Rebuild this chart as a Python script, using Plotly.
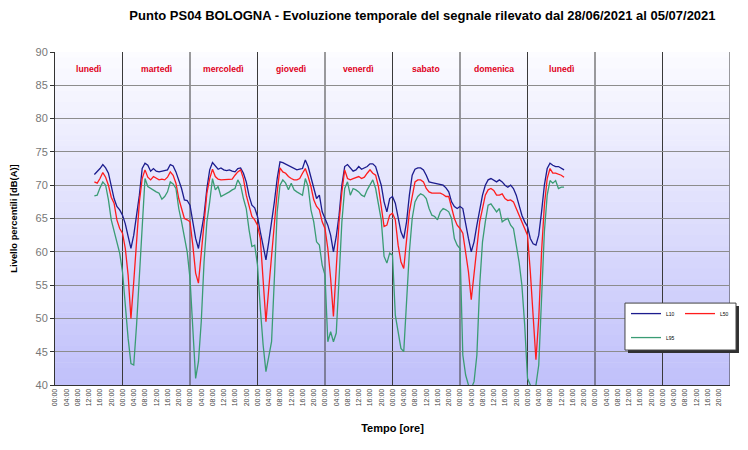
import plotly.graph_objects as go

# ---------------- DATA (hourly values, 28/06/2021 14:00 -> 05/07/2021 13:00) ----------------
START_HOUR = 14  # first sample: lunedì 28/06 at 14:00

# L10 per day
L10_lun1 = [71.6, 72.0, 72.5, 73.1, 72.6, 71.8, 70.0, 68.0, 66.8, 66.3]
L10_mar = [65.5, 64.2, 62.3, 60.5, 62.5, 65.3, 68.5, 72.5, 73.3, 73.0, 72.1, 72.5,
           72.1, 72.0, 72.1, 72.1, 72.3, 73.1, 72.9, 72.0, 70.8, 69.5, 67.8, 67.7]
L10_mer = [67.0, 64.5, 62.0, 60.5, 63.0, 65.5, 69.5, 72.3, 73.4, 72.9, 72.4, 72.6,
           72.3, 72.2, 72.3, 72.1, 72.0, 72.5, 72.6, 71.8, 70.5, 68.4, 67.0, 66.6]
L10_gio = [65.3, 63.0, 60.8, 58.8, 61.5, 64.3, 67.5, 71.0, 73.5, 73.4, 73.2, 73.0,
           72.8, 72.5, 72.3, 72.4, 72.5, 73.8, 72.8, 71.2, 69.5, 68.0, 68.5, 66.0]
L10_ven = [65.0, 64.0, 62.5, 60.0, 62.3, 65.5, 70.0, 72.8, 73.1, 72.6, 72.1, 72.3,
           72.8, 72.4, 72.6, 72.8, 73.2, 73.2, 72.8, 71.5, 70.0, 67.5, 66.0, 68.0]
L10_sab = [68.3, 67.3, 65.0, 63.0, 62.0, 64.5, 68.5, 71.5, 72.4, 72.6, 72.6, 72.3,
           71.5, 70.5, 70.4, 70.3, 70.2, 70.1, 70.0, 69.6, 69.0, 67.5, 66.8, 66.5]
L10_dom = [66.8, 66.5, 64.0, 62.0, 60.0, 61.5, 64.0, 66.5, 68.5, 70.0, 70.8, 71.0,
           70.7, 70.5, 70.8, 70.5, 70.0, 69.7, 70.0, 69.5, 68.5, 67.0, 65.5, 64.5]
L10_lun2 = [63.8, 62.0, 61.2, 61.0, 62.5, 66.0, 70.0, 72.5, 73.3, 73.0, 72.8, 72.8, 72.6, 72.3]

# L50 per day
L50_lun1 = [70.5, 70.3, 71.0, 71.9, 71.2, 70.0, 68.2, 67.3, 64.8, 63.5]
L50_mar = [62.8, 60.5, 56.5, 50.0, 55.5, 62.0, 67.5, 71.0, 72.3, 71.2, 70.8, 71.3,
           71.0, 70.8, 70.9, 70.8, 71.2, 72.0, 71.5, 70.3, 68.0, 66.5, 65.0, 64.8]
L50_mer = [64.5, 61.0, 56.8, 55.3, 59.5, 64.5, 68.8, 71.0, 72.4, 71.3, 70.9, 70.8,
           70.8, 70.8, 70.8, 70.9, 71.5, 72.0, 72.3, 71.0, 68.5, 66.8, 65.3, 64.8]
L50_gio = [64.0, 62.0, 56.0, 49.5, 54.5, 59.5, 63.3, 69.0, 72.6, 72.0, 71.8, 71.3,
           71.0, 70.8, 70.8, 71.0, 71.8, 72.5, 71.3, 69.8, 67.8, 66.8, 66.3, 64.5]
L50_ven = [63.5, 60.5, 56.0, 50.3, 57.5, 64.5, 69.0, 72.3, 71.0, 70.8, 71.0, 71.2,
           71.3, 71.0, 71.2, 71.8, 72.3, 71.8, 71.5, 69.8, 67.0, 63.8, 64.0, 65.5]
L50_sab = [65.8, 64.8, 61.0, 58.5, 57.5, 61.5, 66.0, 68.3, 70.5, 70.8, 70.8, 70.5,
           69.5, 69.0, 68.8, 68.8, 68.8, 68.8, 68.6, 68.3, 68.3, 66.5, 65.0, 64.0]
L50_dom = [63.5, 62.8, 60.0, 57.0, 52.8, 56.5, 61.0, 64.5, 66.5, 68.5, 69.3, 69.5,
           69.2, 68.5, 68.5, 68.7, 68.0, 67.7, 67.8, 67.5, 66.5, 65.5, 64.3, 63.5]
L50_lun2 = [62.5, 57.0, 50.0, 43.8, 50.0, 60.0, 67.0, 71.0, 72.5, 71.8, 71.8, 71.7, 71.5, 71.2]

# L95 per day
L95_lun1 = [68.4, 68.5, 69.6, 70.5, 70.0, 67.8, 64.8, 63.0, 61.3, 59.8]
L95_mar = [57.0, 51.5, 47.0, 43.2, 43.0, 49.0, 56.5, 65.0, 71.0, 69.8, 69.5, 69.3,
           69.0, 68.8, 67.9, 68.3, 69.0, 70.5, 70.2, 69.5, 66.5, 64.5, 62.0, 60.0]
L95_mer = [56.0, 48.0, 41.0, 43.5, 49.5, 58.5, 64.5, 67.5, 71.0, 69.3, 69.8, 68.3,
           68.5, 68.8, 69.0, 69.3, 69.5, 70.8, 70.0, 68.0, 66.5, 63.3, 60.8, 61.0]
L95_gio = [58.0, 51.5, 46.0, 42.0, 44.5, 46.5, 56.0, 66.0, 70.0, 70.8, 70.3, 69.3,
           70.3, 69.3, 69.0, 68.8, 68.5, 71.0, 69.8, 66.3, 64.5, 61.5, 61.0, 58.0]
L95_ven = [56.5, 46.5, 48.0, 46.5, 47.8, 56.0, 64.5, 69.5, 70.5, 68.5, 69.5, 69.3,
           69.0, 68.5, 68.3, 69.3, 70.0, 70.8, 69.5, 67.0, 64.8, 59.3, 58.3, 59.8]
L95_sab = [59.5, 50.5, 48.0, 45.5, 45.0, 52.0, 60.0, 65.0, 67.5, 68.3, 68.7, 68.5,
           68.0, 66.5, 65.5, 65.3, 64.8, 66.0, 66.5, 66.3, 66.0, 65.0, 62.0, 61.0]
L95_dom = [60.5, 44.5, 41.5, 40.0, 39.5, 40.5, 44.5, 55.0, 61.5, 64.5, 67.0, 67.2,
           66.5, 66.0, 66.5, 64.5, 64.8, 65.0, 64.0, 63.5, 61.0, 58.5, 55.0, 49.0]
L95_lun2 = [41.0, 40.0, 39.5, 40.0, 43.0, 53.0, 63.0, 68.5, 70.7, 70.3, 70.7, 69.5, 69.7, 69.7]

DAY_NAMES = ["lunedì", "martedì", "mercoledì", "giovedì", "venerdì", "sabato", "domenica", "lunedì"]
N_DAYS = 10
HOUR_TICK_LABELS = ["00:00", "04:00", "08:00", "12:00", "16:00", "20:00"]
SERIES_NAMES = ["L10", "L50", "L95"]
Y_TICKS = [40, 45, 50, 55, 60, 65, 70, 75, 80, 85, 90]

# ---------------- BUILD ----------------
L10 = L10_lun1 + L10_mar + L10_mer + L10_gio + L10_ven + L10_sab + L10_dom + L10_lun2
L50 = L50_lun1 + L50_mar + L50_mer + L50_gio + L50_ven + L50_sab + L50_dom + L50_lun2
L95 = L95_lun1 + L95_mar + L95_mer + L95_gio + L95_ven + L95_sab + L95_dom + L95_lun2
hours = [START_HOUR + i for i in range(len(L10))]

COLORS = ["#1c1c8e", "#ff1c1c", "#3a9c74"]
FONT = "Liberation Sans, Arial, sans-serif"

fig = go.Figure()
for name, vals, col, lg in zip(SERIES_NAMES, [L10, L50, L95], COLORS, ["legend", "legend", "legend2"]):
    fig.add_trace(go.Scatter(x=hours, y=vals, mode="lines", name=name,
                             line=dict(color=col, width=1.3), legend=lg))

tickvals, ticktext = [], []
for d in range(N_DAYS):
    for k, lab in enumerate(HOUR_TICK_LABELS):
        tickvals.append(d * 24 + k * 4)
        ticktext.append(lab)

shapes = []
# gradient background (white top -> lavender bottom)
NB = 60
top = (252, 252, 255)
bot = (192, 192, 250)
for i in range(NB):
    t = (i + 0.5) / NB
    c = tuple(round(bot[j] + (top[j] - bot[j]) * t) for j in range(3))
    shapes.append(dict(type="rect", xref="x domain", yref="y domain", x0=0, x1=1,
                       y0=i / NB, y1=min(1, (i + 1) / NB + 0.002), layer="below",
                       line=dict(width=0), fillcolor="rgb(%d,%d,%d)" % c))
# day separators
for d in range(1, N_DAYS + 1):
    shapes.append(dict(type="line", xref="x", yref="y domain", x0=d * 24, x1=d * 24,
                       y0=0, y1=1, layer="below", line=dict(color="#3a3a3a", width=1)))
# legend box with shadow
shapes.append(dict(type="rect", xref="paper", yref="paper", x0=0.8489, x1=1.0133,
                   y0=0.096, y1=0.237, fillcolor="#303030", line=dict(width=0), layer="above"))
shapes.append(dict(type="rect", xref="paper", yref="paper", x0=0.8444, x1=1.0089,
                   y0=0.105, y1=0.246, fillcolor="white", line=dict(color="#444", width=1),
                   layer="above"))

annotations = []
for d, nm in enumerate(DAY_NAMES):
    annotations.append(dict(x=d * 24 + 12, y=87.4, xref="x", yref="y", text="<b>%s</b>" % nm,
                            showarrow=False, font=dict(color="#e0001b", size=8.6, family=FONT)))

leg_common = dict(xanchor="left", yanchor="top", orientation="h", bgcolor="rgba(0,0,0,0)",
                  font=dict(size=5, color="black", family=FONT), itemwidth=30)

fig.update_layout(
    width=748, height=450,
    margin=dict(l=47, r=26, t=44, b=73, autoexpand=False),
    paper_bgcolor="white", plot_bgcolor="white",
    title=dict(text="<b>Punto PS04 BOLOGNA - Evoluzione temporale del segnale rilevato dal 28/06/2021 al 05/07/2021</b>",
               xref="paper", x=0.5444, xanchor="center", yref="container", y=0.983, yanchor="middle",
               font=dict(family=FONT, size=13, color="black")),
    xaxis=dict(range=[0, N_DAYS * 24], tickmode="array", tickvals=tickvals, ticktext=ticktext,
               tickangle=-90, tickfont=dict(size=7, color="#444", family=FONT),
               ticks="", showgrid=False, zeroline=False, showline=True, linecolor="#333", linewidth=1,
               automargin=False,
               title=dict(text="<b>Tempo [ore]</b>", font=dict(family=FONT, size=11, color="black"),
                          standoff=18)),
    yaxis=dict(range=[40, 90], tickmode="array", tickvals=Y_TICKS, ticks="outside", ticklen=4,
               tickcolor="#333", tickfont=dict(size=11, color="#777", family=FONT),
               showgrid=True, gridcolor="#8c8c8c", gridwidth=1, zeroline=False,
               showline=True, linecolor="#333", linewidth=1, automargin=False,
               title=dict(text="<b>Livello percentili [dB(A)]</b>",
                          font=dict(family=FONT, size=9.4, color="black"), standoff=16)),
    shapes=shapes, annotations=annotations,
    legend=dict(x=0.8459, y=0.258, entrywidth=9, **leg_common),
    legend2=dict(x=0.8459, y=0.186, **leg_common),
)

fig.write_html("out.html")
